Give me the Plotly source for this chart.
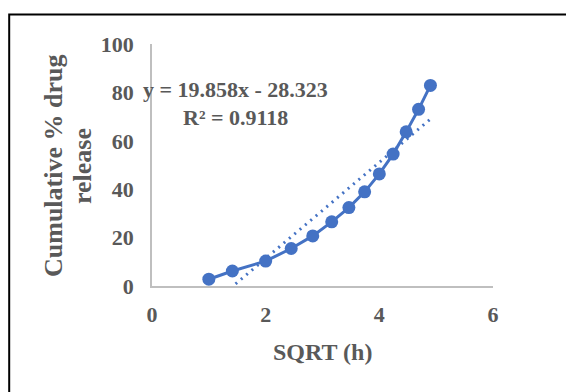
import numpy as np
import plotly.graph_objects as go

time_h = [1, 2, 4, 6, 8, 10, 12, 14, 16, 18, 20, 22, 24]
sqrt_t = [float(np.sqrt(t)) for t in time_h]
release = [2.8, 6.2, 10.3, 15.5, 20.7, 26.5, 32.4, 38.9, 46.3, 54.5, 63.7, 73.0, 82.9]
slope, intercept = 19.858, -28.323
r2 = 0.9118
x_ticks = [0, 2, 4, 6]
y_ticks = [0, 20, 40, 60, 80, 100]

blue = "#4472C4"
gray = "#595959"
font_fam = "Liberation Serif, Times New Roman, serif"

trend_x = [sqrt_t[0], sqrt_t[-1]]
trend_y = [slope * x + intercept for x in trend_x]

OFF = 8  # page body margin
L, R, T, B = 152, 493, 44, 286  # plot area in screen pixels

fig = go.Figure()
fig.add_trace(go.Scatter(x=trend_x, y=trend_y, mode="lines",
                         line=dict(color=blue, width=3, dash="2px,5px"),
                         showlegend=False, hoverinfo="skip"))
fig.add_trace(go.Scatter(x=sqrt_t, y=release, mode="lines+markers",
                         line=dict(color=blue, width=3),
                         marker=dict(color=blue, size=13),
                         showlegend=False, cliponaxis=False))

fig.update_layout(
    width=574, height=392,
    margin=dict(l=L - OFF, r=574 - (R - OFF), t=T - OFF, b=392 - (B - OFF)),
    paper_bgcolor="white", plot_bgcolor="white",
    font=dict(family=font_fam, color=gray, size=18),
    xaxis=dict(range=[0, 6], tickvals=x_ticks, showgrid=False, zeroline=False,
               showline=True, linecolor="#BFBFBF", linewidth=1.5,
               ticks="", ticklabelstandoff=8,
               tickfont=dict(family=font_fam, size=22, color=gray, weight="bold")),
    yaxis=dict(range=[0, 100], tickvals=y_ticks, showgrid=False, zeroline=False,
               showline=True, linecolor="#BFBFBF", linewidth=1.5,
               ticks="", ticklabelstandoff=12,
               tickfont=dict(family=font_fam, size=22, color=gray, weight="bold")),
)

def px_x(p):
    return (p - L) / float(R - L)

def px_y(p):
    return (B - p) / float(B - T)

def note(text, x, y, size, angle=0):
    fig.add_annotation(text=text, xref="paper", yref="paper",
                       x=px_x(x), y=px_y(y), xanchor="center", yanchor="middle",
                       showarrow=False, textangle=angle,
                       font=dict(size=size, color=gray, family=font_fam))

note("<b>y = 19.858x - 28.323</b>", 235, 89, 22)
note("<b>R² = 0.9118</b>", 235, 117, 22)
note("<b>SQRT (h)</b>", 322, 352, 24)
note("<b>Cumulative % drug</b>", 53, 166, 26, -90)
note("<b>release</b>", 82, 166, 26, -90)

fig.add_shape(type="rect", xref="paper", yref="paper",
              x0=px_x(9.2), x1=px_x(600), y0=px_y(14.5), y1=px_y(420),
              line=dict(color="black", width=2), fillcolor="rgba(0,0,0,0)", layer="below")

fig.write_html("out.html")
